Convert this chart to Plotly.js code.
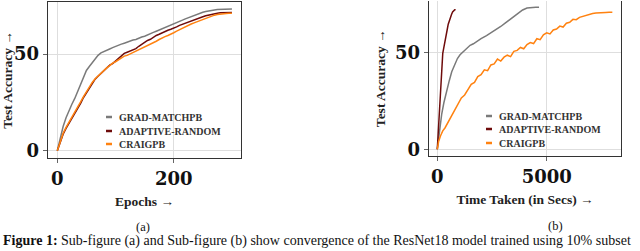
<!DOCTYPE html>
<html>
<head>
<meta charset="utf-8">
<script src="https://cdn.plot.ly/plotly-3.0.1.min.js"></script>
<style>html,body{margin:0;padding:0;background:#fff;overflow:hidden}#chart{width:640px;height:251px}</style>
</head>
<body>
<div id="chart"></div>
<script>
// ---------- Data (a): accuracy vs epochs ----------
const epochs = [0,5,10,15,20,25,30,35,40,45,50,55,60,65,70,75,80,85,90,95,100,105,110,115,120,125,130,135,140,145,150,155,160,165,170,175,180,185,190,195,200,205,210,215,220,225,230,235,240,245,250,255,260,265,270,275,280,285,290,295,300];
const gradMatchEp = [0,6.5,12.5,17,21,24,27,30.5,34,38,41.5,43.5,45.5,47.5,49.3,50.6,51.4,52.0,52.6,53.3,54.0,54.5,55.1,55.6,56.2,56.6,57.2,57.5,58.3,58.8,59.2,60.0,60.6,61.2,61.8,62.4,63.0,63.5,64.2,64.9,65.6,66.2,66.9,67.5,68.2,68.8,69.5,70.0,70.6,71.1,71.6,72.0,72.4,72.6,72.8,73.0,73.1,73.2,73.2,73.3,73.3];
const adaptiveEp = [0,4.5,8.5,11.5,14,16.5,19.5,22,24.5,27.5,30,32.5,35,37,38.5,40,41.5,42.6,44.2,45.0,46.3,47.2,48.6,50.3,50.9,51.5,52.0,52.8,54.0,55.0,56.2,57.0,57.6,58.8,59.6,60.2,61.0,61.6,62.3,62.8,63.3,64.0,64.8,65.4,66.1,66.6,67.2,67.8,68.3,68.8,69.3,69.8,70.2,70.6,70.9,71.1,71.3,71.4,71.5,71.5,71.5];
const craigEp = [0,5,9,12,14.5,17,19.8,22.5,25.2,28,30.5,33,35.3,37.2,38.6,40.1,41.8,42.8,44.0,45.3,46.0,47.0,48.2,48.9,49.3,50.0,50.7,51.5,52.2,53.0,53.8,54.6,55.0,55.9,56.6,57.5,58.4,59.0,59.6,60.5,61.0,61.8,62.6,63.4,64.1,64.8,65.5,66.1,66.7,67.3,68.0,68.6,69.2,69.7,70.1,70.4,70.7,70.9,71.0,71.1,71.1];

// ---------- Data (b): accuracy vs time (secs) ----------
const gradMatchTime = [0,50,100,200,300,430,550,660,810,920,1040,1200,1350,1500,1650,1800,2000,2250,2500,2700,2900,3100,3300,3500,3700,3900,4100,4300,4500,4650];
const gradMatchAcc  = [0,5,9,18,24,30.5,35.5,40,44.3,46.8,48.7,50.5,52.2,53.6,54.4,55.6,57,58.6,60.3,61.8,63.3,65,66.6,68.3,70,71.8,72.8,73.1,73.2,73.2];
const adaptiveTime = [0,30,60,100,150,200,250,300,350,400,450,500,550,600,650,700,750,800,840];
const adaptiveAcc  = [0,6,13,24,36,45,49.5,52.5,55,58,61.5,64.5,66.5,68,69.5,70.8,71.5,71.9,72];
const craigTime = [0,60,150,250,350,500,650,800,950,1100,1250,1400,1550,1700,1850,2000,2150,2300,2450,2600,2750,2900,3050,3200,3350,3500,3650,3800,3950,4100,4250,4400,4550,4700,4850,5000,5150,5300,5450,5600,5750,5900,6050,6200,6350,6500,6650,6800,6950,7100,7250,7400,7550,7700,7850,8000];
const craigAcc  = [0,4,7,9.5,11,14,17.5,20.5,23,26.5,28,31,33.5,34.5,37.5,38.5,41,40.5,43.5,44,46.5,45.5,47.5,48.5,47.8,50.5,51,52.5,51.8,54,55,54.5,57,56.5,59,60,59.5,61.5,62,63.5,63,65,65.5,67,66.8,68,68.6,69.2,69.6,70,70.2,70.4,70.4,70.5,70.6,70.6];

const seriesNames = ["GRAD-MATCHPB", "ADAPTIVE-RANDOM", "CRAIGPB"];
const xTicksA = [0, 200];
const xTicksB = [0, 5000];
const yTicks = [0, 50];

// ---------- Styling ----------
const colors = ["#7a7a7a", "#6e0b0b", "#ff8210"];
const W = 640, H = 251;
const px = v => v / W;
const py = v => 1 - v / H;

const traces = [
  {x: epochs, y: gradMatchEp, xaxis: 'x', yaxis: 'y'},
  {x: epochs, y: adaptiveEp, xaxis: 'x', yaxis: 'y'},
  {x: epochs, y: craigEp, xaxis: 'x', yaxis: 'y'},
  {x: gradMatchTime, y: gradMatchAcc, xaxis: 'x2', yaxis: 'y2'},
  {x: adaptiveTime, y: adaptiveAcc, xaxis: 'x2', yaxis: 'y2'},
  {x: craigTime, y: craigAcc, xaxis: 'x2', yaxis: 'y2'}
].map((t, i) => Object.assign(t, {
  type: 'scatter', mode: 'lines', name: seriesNames[i % 3],
  line: {color: colors[i % 3], width: 1.5}, showlegend: false, hoverinfo: 'skip'
}));
const tickFont = {family: 'DejaVu Serif', size: 18, color: '#111', weight: 'bold'};
const titleFont = {family: 'Liberation Serif', size: 13.5, color: '#222', weight: 'bold'};

function axisBase(extra) {
  return Object.assign({
    showline: true, mirror: true, linecolor: '#333', linewidth: 1.3,
    showgrid: true, gridcolor: '#dedede', gridwidth: 1, zeroline: false,
    ticks: 'outside', ticklen: 4, tickcolor: '#666', tickwidth: 1,
    tickfont: tickFont, tickmode: 'array', fixedrange: true
  }, extra);
}

const layout = {
  width: W, height: H, margin: {l: 0, r: 0, t: 0, b: 0},
  paper_bgcolor: '#fff', plot_bgcolor: '#fff', showlegend: false,
  xaxis: axisBase({domain: [px(48), px(241)], range: [-16, 315.6], tickvals: xTicksA, ticktext: xTicksA.map(String),
    anchor: 'y', title: {text: 'Epochs →', font: titleFont, standoff: 8}}),
  yaxis: axisBase({domain: [py(158), py(2)], range: [-3.8, 76.9], tickvals: yTicks, ticktext: yTicks.map(String),
    anchor: 'x', title: {text: 'Test Accuracy →', font: titleFont, standoff: 6}}),
  xaxis2: axisBase({domain: [px(429), px(621)], range: [-379, 8396], tickvals: xTicksB, ticktext: xTicksB.map(String),
    anchor: 'y2', title: {text: 'Time Taken (in Secs) →', font: titleFont, standoff: 8}}),
  yaxis2: axisBase({domain: [py(156), py(0.5)], range: [-3.45, 76.7], tickvals: yTicks, ticktext: yTicks.map(String),
    anchor: 'x2', title: {text: 'Test Accuracy →', font: titleFont, standoff: 6}}),
  shapes: [], annotations: []
};

// legends (line samples + labels inside each panel)
const legA = {sx0: 106, sx1: 112, tx: 117, rows: [117, 131, 144]};
const legB = {sx0: 486, sx1: 492, tx: 497, rows: [116, 129, 143]};
[legA, legB].forEach(L => {
  seriesNames.forEach((n, i) => {
    layout.shapes.push({type: 'line', xref: 'paper', yref: 'paper',
      x0: px(L.sx0), x1: px(L.sx1), y0: py(L.rows[i]), y1: py(L.rows[i]),
      line: {color: colors[i], width: 2.5}});
    layout.annotations.push({xref: 'paper', yref: 'paper', x: px(L.tx), y: py(L.rows[i]),
      xanchor: 'left', yanchor: 'middle', showarrow: false, text: n,
      font: {family: 'Liberation Serif', size: 10, color: '#333', weight: 'bold'}});
  });
});

// sub-figure labels and caption
layout.annotations.push({xref: 'paper', yref: 'paper', x: px(143), y: py(227), xanchor: 'center', yanchor: 'middle',
  showarrow: false, text: '(a)', font: {family: 'Liberation Serif', size: 12.5, color: '#111'}});
layout.annotations.push({xref: 'paper', yref: 'paper', x: px(555), y: py(226), xanchor: 'center', yanchor: 'middle',
  showarrow: false, text: '(b)', font: {family: 'Liberation Serif', size: 12.5, color: '#111'}});
layout.annotations.push({xref: 'paper', yref: 'paper', x: px(1), y: py(251), xanchor: 'left', yanchor: 'bottom',
  showarrow: false, text: '<b>Figure 1:</b> Sub-figure (a) and Sub-figure (b) show convergence of the ResNet18 model trained using 10% subset',
  font: {family: 'Liberation Serif', size: 14, color: '#111'}});

Plotly.newPlot('chart', traces, layout, {staticPlot: true, displayModeBar: false});
</script>
</body>
</html>
